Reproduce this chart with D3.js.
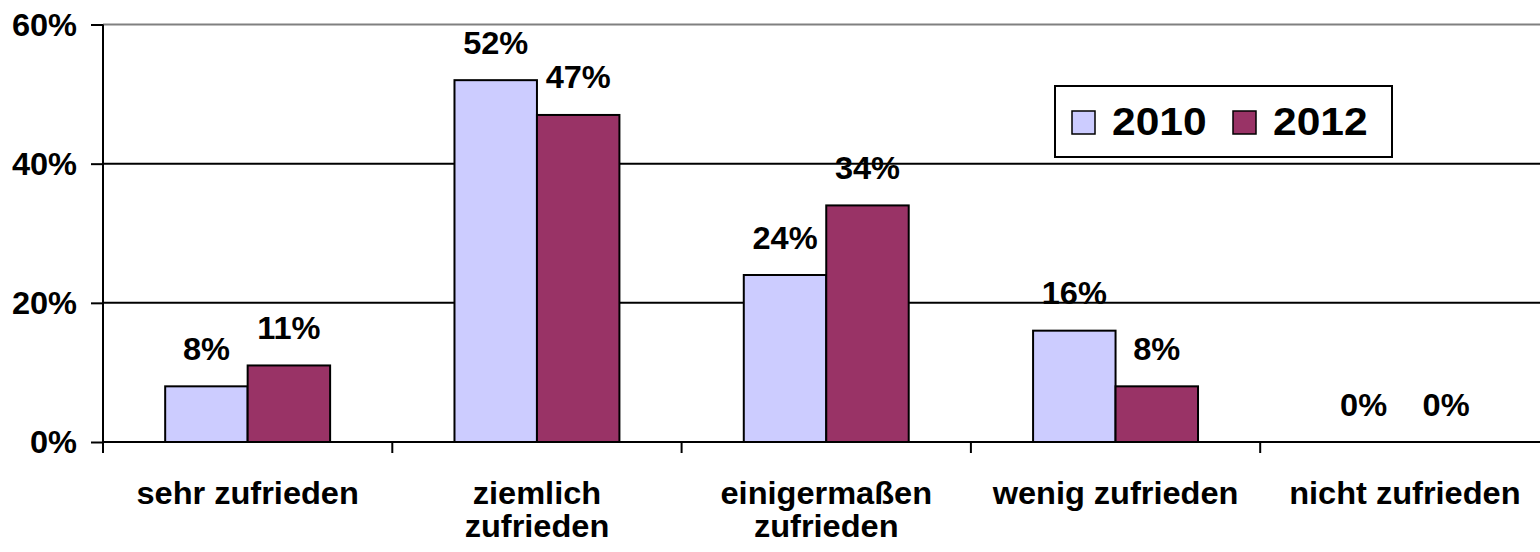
<!DOCTYPE html>
<html><head><meta charset="utf-8">
<script src="https://cdn.jsdelivr.net/npm/d3@7"></script>
<style>html,body{margin:0;padding:0;background:#fff;} svg{display:block;}</style>
</head><body>
<script>
const categories = [["sehr zufrieden"], ["ziemlich", "zufrieden"], ["einigermaßen", "zufrieden"], ["wenig zufrieden"], ["nicht zufrieden"]];
const seriesNames = ["2010", "2012"];
const values2010 = [8, 52, 24, 16, 0];
const values2012 = [11, 47, 34, 8, 0];
const yTicks = [0, 20, 40, 60];
const colors = ["#CCCCFF", "#993366"];

const W = 1540, H = 552;
const FONT = "'Liberation Sans', Arial, sans-serif";
const SX = 1.05;
const FS = 31;
const svg = d3.select("body").append("svg").attr("width", W).attr("height", H);

const catKeys = categories.map(c => c.join(" "));
const x = d3.scaleBand().domain(catKeys).range([103, 103 + 5 * 289.3]).padding(0);
const xs = d3.scaleBand().domain(seriesNames).range([0, x.bandwidth()]).paddingInner(0).paddingOuter(0.754);
const y = d3.scaleLinear().domain([0, 60]).range([442, 24.5]);

function stext(g, tx, ty, str, size, anchor, sx) {
  return g.append("text")
    .attr("transform", `translate(${tx},${ty}) scale(${sx || SX},1)`)
    .attr("text-anchor", anchor || "middle")
    .attr("font-family", FONT).attr("font-weight", "bold")
    .attr("font-size", size).attr("fill", "#000").text(str);
}

// gridlines
svg.append("g").selectAll("line").data(yTicks.filter(t => t > 0)).join("line")
  .attr("x1", 103).attr("x2", x.range()[1])
  .attr("y1", d => y(d)).attr("y2", d => y(d))
  .attr("stroke", d => d === 60 ? "#808080" : "#000").attr("stroke-width", 2);

// bars
const data = catKeys.map((c, i) => ({ c, vals: [values2010[i], values2012[i]] }));
const groups = svg.append("g").selectAll("g").data(data).join("g")
  .attr("transform", d => `translate(${x(d.c)},0)`);
groups.selectAll("rect").data(d => d.vals.map((v, j) => ({ v, s: seriesNames[j], j }))).join("rect")
  .filter(d => d.v > 0)
  .attr("x", d => xs(d.s)).attr("width", xs.bandwidth())
  .attr("y", d => y(d.v)).attr("height", d => y(0) - y(d.v))
  .attr("fill", d => colors[d.j]).attr("stroke", "#000").attr("stroke-width", 2);

// data labels
const lab = svg.append("g");
data.forEach(d => {
  d.vals.forEach((v, j) => {
    stext(lab, x(d.c) + xs(seriesNames[j]) + xs.bandwidth() / 2, y(v) - 26.5, v + "%", FS);
  });
});

// y axis
const yAxis = svg.append("g").attr("transform", "translate(103,0)")
  .call(d3.axisLeft(y).tickValues(yTicks).tickSize(12).tickFormat(d => d + "%"));
yAxis.select(".domain").remove();
yAxis.selectAll(".tick line").attr("stroke", "#000").attr("stroke-width", 2);
yAxis.selectAll(".tick text").remove();
yAxis.selectAll(".tick").each(function(d) {
  stext(d3.select(this), -26, 10.5, d + "%", FS, "end");
});
svg.append("line").attr("x1", 103).attr("x2", 103).attr("y1", y(60)).attr("y2", 453)
  .attr("stroke", "#000").attr("stroke-width", 2);

// x axis
svg.append("line").attr("x1", 103).attr("x2", x.range()[1]).attr("y1", y(0)).attr("y2", y(0))
  .attr("stroke", "#000").attr("stroke-width", 2);
svg.append("g").selectAll("line").data(catKeys).join("line")
  .attr("x1", d => x(d)).attr("x2", d => x(d)).attr("y1", y(0)).attr("y2", 453)
  .attr("stroke", "#000").attr("stroke-width", 2);
const xl = svg.append("g");
categories.forEach((c, i) => {
  c.forEach((line, k) => {
    stext(xl, x(catKeys[i]) + x.bandwidth() / 2, 504 + k * 33, line, FS);
  });
});

// legend
const lg = svg.append("g");
lg.append("rect").attr("x", 1055).attr("y", 86).attr("width", 337).attr("height", 71)
  .attr("fill", "#fff").attr("stroke", "#000").attr("stroke-width", 2);
const legX = [1072, 1233];
seriesNames.forEach((s, j) => {
  lg.append("rect").attr("x", legX[j]).attr("y", 111).attr("width", 23).attr("height", 23)
    .attr("fill", colors[j]).attr("stroke", "#000").attr("stroke-width", 1.5);
  stext(lg, legX[j] + 40, 135, s, 38, "start", 1.12);
});
</script>
</body></html>
